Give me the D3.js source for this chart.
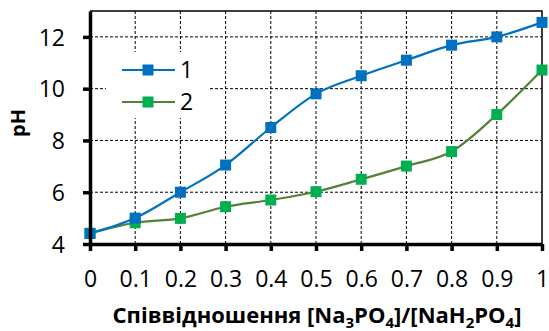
<!DOCTYPE html>
<html>
<head>
<meta charset="utf-8">
<script src="https://cdn.jsdelivr.net/npm/d3@7"></script>
<style>
  body { margin: 0; background: #fff; }
  svg text { font-family: "Open Sans", sans-serif; fill: #000; }
</style>
</head>
<body>
<div id="chart"></div>
<script>
(function() {
    'use strict';

    // data
    const ratios = [0, 0.1, 0.2, 0.3, 0.4, 0.5, 0.6, 0.7, 0.8, 0.9, 1];
    const ph1 = [4.41, 5.0, 6.0, 7.05, 8.5, 9.8, 10.5, 11.1, 11.68, 12.0, 12.56];
    const ph2 = [4.41, 4.82, 4.99, 5.44, 5.7, 6.02, 6.5, 7.01, 7.57, 9.0, 10.72];
    const xTicks = [0, 0.1, 0.2, 0.3, 0.4, 0.5, 0.6, 0.7, 0.8, 0.9, 1];
    const yTicks = [4, 6, 8, 10, 12];
    const seriesNames = ["1", "2"];

    const width = 549;
    const height = 331;
    const marginTop = 11;
    const marginRight = 7;
    const marginBottom = 87;
    const marginLeft = 90;

    const svg = d3.select("#chart")
        .append("svg")
        .attr("width", width)
        .attr("height", height);

    // SCALES
    const x = d3.scaleLinear()
        .domain([0, 1])
        .range([marginLeft, width - marginRight]);

    const y = d3.scaleLinear()
        .domain([4, 13])
        .range([height - marginBottom, marginTop]);

    // GRID
    svg.append("g")
        .selectAll("line")
        .data(xTicks.slice(1, -1))
        .join("line")
        .attr("x1", d => x(d)).attr("x2", d => x(d))
        .attr("y1", y(13)).attr("y2", y(4))
        .attr("stroke", "#000")
        .attr("stroke-width", 1)
        .attr("stroke-dasharray", "3,2");

    svg.append("g")
        .selectAll("line")
        .data(yTicks.slice(1))
        .join("line")
        .attr("x1", x(0)).attr("x2", x(1))
        .attr("y1", d => y(d)).attr("y2", d => y(d))
        .attr("stroke", "#000")
        .attr("stroke-width", 1)
        .attr("stroke-dasharray", "3,2");

    // top / right frame
    svg.append("path")
        .attr("d", `M${x(0)},${y(13)}H${x(1)}V${y(4)}`)
        .attr("fill", "none")
        .attr("stroke", "#000")
        .attr("stroke-width", 1.5);

    // legend background (hides the grid behind it)
    svg.append("rect")
        .attr("x", 106).attr("y", 52)
        .attr("width", 103).attr("height", 66)
        .attr("fill", "#fff");

    // LINES
    const series = [
        { name: seriesNames[0], values: ph1, line: "#0070C0", marker: "#0070C0" },
        { name: seriesNames[1], values: ph2, line: "#548235", marker: "#00B050" }
    ];

    const line = d3.line()
        .x((d, i) => x(ratios[i]))
        .y(d => y(d))
        .curve(d3.curveCardinal.tension(0));

    series.slice().reverse().forEach(function(s) {
        svg.append("path")
            .attr("d", line(s.values))
            .attr("fill", "none")
            .attr("stroke", s.line)
            .attr("stroke-width", 2.2);

        svg.append("g")
            .selectAll("rect")
            .data(s.values)
            .join("rect")
            .attr("x", (d, i) => x(ratios[i]) - 5.5)
            .attr("y", d => y(d) - 5.5)
            .attr("width", 11)
            .attr("height", 11)
            .attr("fill", s.marker);
    });

    // X AXIS
    svg.append("g")
        .attr("transform", `translate(0, ${y(4)})`)
        .call(d3.axisBottom(x).tickValues(xTicks).tickSize(7).tickSizeOuter(0)
            .tickFormat(d => d3.format("")(d)))
        .call(g => g.select(".domain").attr("stroke-width", 3.5))
        .call(g => g.selectAll(".tick line").attr("stroke-width", 3.5))
        .call(g => g.selectAll("text")
            .attr("dy", 0)
            .attr("y", 43)
            .attr("font-size", "23px")
            .attr("font-family", "'Open Sans', sans-serif"));

    // Y AXIS
    svg.append("g")
        .attr("transform", `translate(${x(0)}, 0)`)
        .call(d3.axisLeft(y).tickValues(yTicks).tickSize(7).tickSizeOuter(0))
        .call(g => g.select(".domain").attr("stroke-width", 3.5))
        .call(g => g.selectAll(".tick line").attr("stroke-width", 3.5))
        .call(g => g.selectAll("text")
            .attr("x", -25)
            .attr("dy", "0.36em")
            .attr("font-size", "23px")
            .attr("font-family", "'Open Sans', sans-serif"));

    // LEGEND
    const legend = svg.append("g");
    series.forEach(function(s, i) {
        const ly = 70 + i * 32;
        legend.append("line")
            .attr("x1", 122).attr("x2", 175)
            .attr("y1", ly).attr("y2", ly)
            .attr("stroke", s.line)
            .attr("stroke-width", 2.2);
        legend.append("rect")
            .attr("x", 148 - 5.5).attr("y", ly - 5.5)
            .attr("width", 11).attr("height", 11)
            .attr("fill", s.marker);
        legend.append("text")
            .attr("x", 180).attr("y", ly)
            .attr("dy", "0.36em")
            .attr("font-size", "23px")
            .text(s.name);
    });

    // AXIS TITLES
    const xt = svg.append("text")
        .attr("x", 317)
        .attr("y", 323)
        .attr("text-anchor", "middle")
        .attr("font-size", "22px")
        .attr("font-weight", "bold");
    xt.append("tspan").text("Співвідношення [Na");
    xt.append("tspan").attr("font-size", "15px").attr("dy", 5).text("3");
    xt.append("tspan").attr("dy", -5).text("PO");
    xt.append("tspan").attr("font-size", "15px").attr("dy", 5).text("4");
    xt.append("tspan").attr("dy", -5).text("]/[NaH");
    xt.append("tspan").attr("font-size", "15px").attr("dy", 5).text("2");
    xt.append("tspan").attr("dy", -5).text("PO");
    xt.append("tspan").attr("font-size", "15px").attr("dy", 5).text("4");
    xt.append("tspan").attr("dy", -5).text("]");

    svg.append("text")
        .attr("transform", `translate(25, 123) rotate(-90)`)
        .attr("text-anchor", "middle")
        .attr("font-size", "20px")
        .attr("font-weight", "bold")
        .text("pH");
})();
</script>
</body>
</html>
